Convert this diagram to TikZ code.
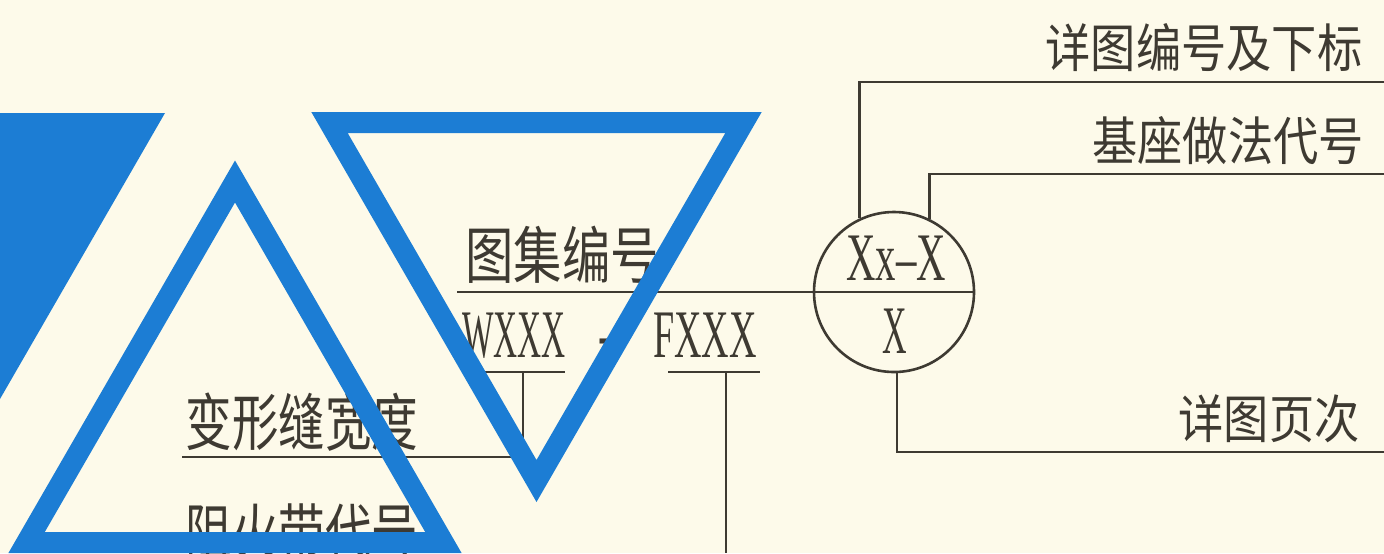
\documentclass[tikz,border=0pt]{standalone}
\usepackage{fontspec}
\setmainfont{Liberation Serif}
\newfontfamily\cjk{Noto Sans CJK SC}
\usepackage{tikz}
\usepackage{xcolor}
\definecolor{paper}{RGB}{253,250,234}
\definecolor{sign}{RGB}{28,125,212}
\definecolor{ink}{RGB}{62,58,50}
\tikzset{
  lead/.style={draw=ink, line width=1.3pt},
  tri/.style={draw=sign, line width=10.5pt, line join=miter},
  cjkbig/.style={inner sep=0pt, text=ink, font=\cjk\fontsize{31}{31}\selectfont},
  cjksmall/.style={inner sep=0pt, text=ink, font=\cjk\fontsize{26}{26}\selectfont},
  code/.style={inner sep=0pt, anchor=base, text=ink, font=\fontsize{34}{34}\selectfont},
}

\begin{document}
\begin{tikzpicture}[x=0.5pt, y=-0.5pt]
\fill[paper] (0,0) rectangle (1384,553);
\useasboundingbox (0,0) rectangle (1384,553);
\clip (0,0) rectangle (1384,553);

% Left labels
\node[cjkbig] (atlas) at (562,255) {\scalebox{0.78}[1]{图集编号}};
\node[cjkbig] (jointw) at (302,422) {\scalebox{0.75}[1]{变形缝宽度}};
\node[cjkbig] (fireband) at (302,532) {\scalebox{0.75}[1]{阻火带代号}};
\node[code] (wcode) at (514,357) {\scalebox{0.49}[1]{WXXX}};
\node[code] (dash) at (605,357) {\scalebox{0.6}[1]{-}};
\node[code] (fcode) at (705,357) {\scalebox{0.56}[1]{FXXX}};

% Right labels
\node[cjksmall] (detailno) at (1204,48) {\scalebox{0.87}[1]{详图编号及下标}};
\node[cjksmall] (basecode) at (1228,141) {\scalebox{0.87}[1]{基座做法代号}};
\node[cjksmall] (pageno) at (1269,419) {\scalebox{0.87}[1]{详图页次}};

% Index circle
\node[circle, draw=ink, line width=1.3pt, minimum size=80pt, inner sep=0pt] (circ) at (894,292) {};
\node[code] (xtop) at (896,280) {\scalebox{0.6}[1]{Xx–X}};
\node[code] (xbot) at (894.5,353) {\scalebox{0.5}[1]{X}};

% Leaders
\coordinate (mainL) at (457,292);
\coordinate (topR) at (1384,82);
\coordinate (midR) at (1384,174);
\coordinate (botR) at (1384,452);
\draw[lead] (mainL) -- (circ.east);
\draw[lead] (circ.115) |- (topR);
\draw[lead] (circ.64) |- (midR);
\draw[lead] (circ.-88) |- (botR);

\coordinate (wL) at (485,372);
\coordinate (wR) at (565,372);
\coordinate (wM) at (523,372);
\coordinate (jL) at (182,457);
\coordinate (fL) at (668,372);
\coordinate (fR) at (760,372);
\coordinate (fM) at (726,372);
\coordinate (fEnd) at (726,553);
\draw[lead] (wL) -- (wR);
\draw[lead] (wM) |- (jL);
\draw[lead] (fL) -- (fR);
\draw[lead] (fM) -- (fEnd);

% Blue sign
\fill[sign] (0,113) -- (165,113) -- (0,399) -- cycle;
\draw[tri] (235,181.5) -- (443.4,542.5) -- (26.6,542.5) -- cycle;
\draw[tri] (329.5,122.5) -- (743.5,122.5) -- (536.5,481) -- cycle;
\end{tikzpicture}
\end{document}
